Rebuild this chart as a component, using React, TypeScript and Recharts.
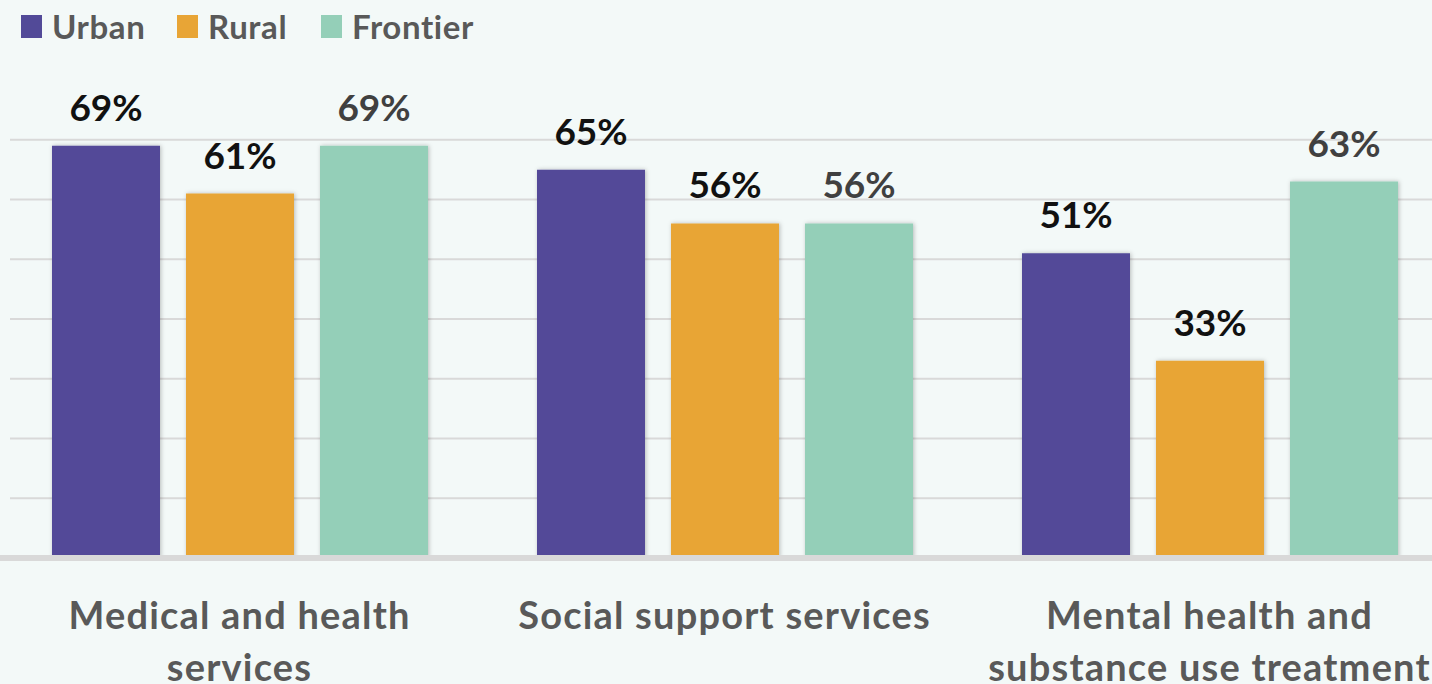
import React from 'react';
import {
  BarChart,
  Bar,
  XAxis,
  YAxis,
  CartesianGrid,
  LabelList,
} from 'recharts';

// Survey shares by service type and locale
const categories = [
  'Medical and health\nservices',
  'Social support services',
  'Mental health and\nsubstance use treatment',
];
const urban = [69, 65, 51];
const rural = [61, 56, 33];
const frontier = [69, 56, 63];
const yTicks = [0, 10, 20, 30, 40, 50, 60, 70];

const series = [
  { key: 'urban', name: 'Urban', color: '#524a98', label: '#111111', left: 21 },
  { key: 'rural', name: 'Rural', color: '#e8a536', label: '#111111', left: 177 },
  { key: 'frontier', name: 'Frontier', color: '#94cfb8', label: '#404040', left: 321 },
];

const data = categories.map((name, i) => ({
  name,
  urban: urban[i],
  rural: rural[i],
  frontier: frontier[i],
}));

const FONT = 'Lato, "Open Sans", sans-serif';

const CategoryTick = (props: any) => {
  const { x, y, payload } = props;
  const lines = String(payload.value).split('\n');
  return (
    <g transform={`translate(${x},${y})`}>
      {lines.map((line, i) => (
        <text
          key={i}
          x={0}
          y={63 + i * 52}
          textAnchor="middle"
          fill="#595959"
          fontSize={38}
          fontWeight={700}
          letterSpacing={1.2}
          fontFamily={FONT}
        >
          {line}
        </text>
      ))}
    </g>
  );
};

const GridLine = (props: any) => {
  const { x1, x2, y1, y2 } = props;
  return (
    <line
      key={props.key}
      x1={x1 + 13}
      x2={x2}
      y1={y1}
      y2={y2}
      stroke="#d9d9d9"
      strokeWidth={2}
    />
  );
};

export default function App() {
  return (
    <div
      style={{
        position: 'absolute',
        top: 0,
        left: 0,
        width: 1432,
        height: 684,
        overflow: 'hidden',
        background: '#f3f9f8',
      }}
    >
      {series.map((s) => (
        <div
          key={s.key}
          style={{
            position: 'absolute',
            top: 4,
            left: s.left,
            display: 'flex',
            alignItems: 'center',
            height: 44,
            fontFamily: FONT,
            fontWeight: 700,
            fontSize: 33,
            letterSpacing: 0.6,
            color: '#595959',
            whiteSpace: 'nowrap',
          }}
        >
          <span
            style={{
              display: 'inline-block',
              width: 21,
              height: 23,
              background: s.color,
              marginRight: 10,
            }}
          />
          <span>{s.name}</span>
        </div>
      ))}
      <div style={{ position: 'absolute', top: 0, left: -20 }}>
        <BarChart
          width={1490}
          height={684}
          data={data}
          margin={{ top: 80, right: 18, bottom: 0, left: 17 }}
          barSize={108}
          barGap={26}
        >
          <defs>
            <filter id="barShadow" x="-10%" y="-10%" width="120%" height="120%">
              <feDropShadow dx="1" dy="0" stdDeviation="2" floodColor="#000" floodOpacity="0.25" />
            </filter>
          </defs>
          <CartesianGrid vertical={false} horizontal={GridLine} horizontalValues={yTicks} />
          <YAxis hide domain={[0, 80]} ticks={yTicks} allowDataOverflow />
          <XAxis
            dataKey="name"
            height={126}
            tickLine={false}
            axisLine={{ stroke: '#d9d9d9', strokeWidth: 6 }}
            tick={<CategoryTick />}
            interval={0}
          />
          {series.map((s) => (
            <Bar
              key={s.key}
              dataKey={s.key}
              name={s.name}
              fill={s.color}
              filter="url(#barShadow)"
              isAnimationActive={false}
            >
              <LabelList
                dataKey={s.key}
                position="top"
                offset={25}
                formatter={(v: any) => `${v}%`}
                fill={s.label}
                fontSize={37}
                fontWeight={700}
                fontFamily={FONT}
              />
            </Bar>
          ))}
        </BarChart>
      </div>
    </div>
  );
}
